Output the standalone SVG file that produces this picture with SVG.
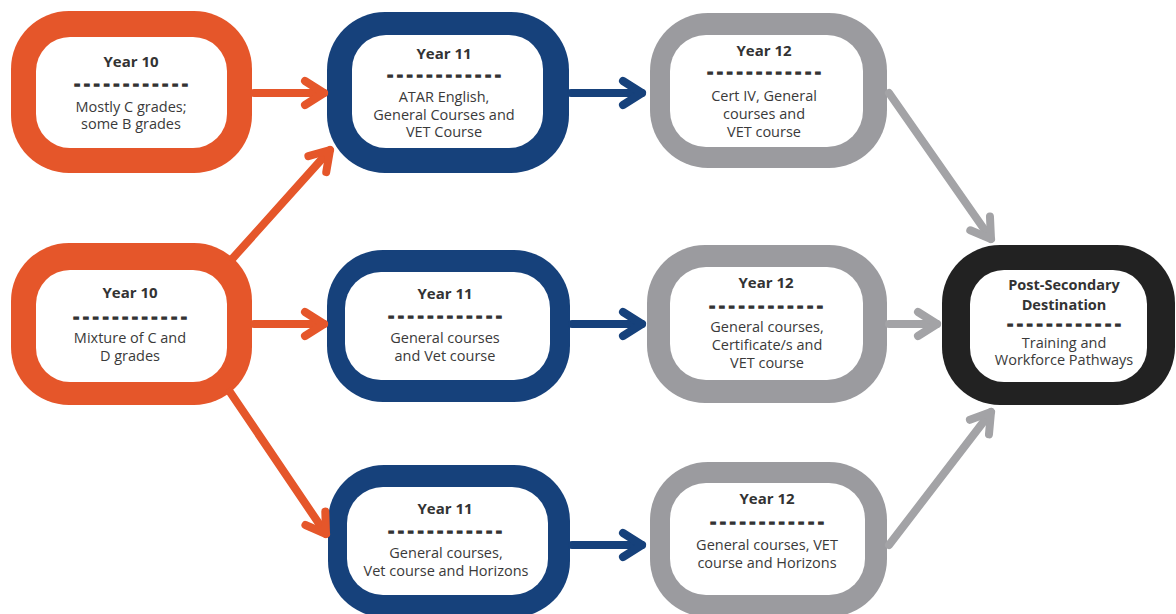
<svg xmlns="http://www.w3.org/2000/svg" width="1176" height="614" viewBox="0 0 1176 614">
<style>
.t{font-family:"Open Sans","Liberation Sans",sans-serif;font-weight:700;font-size:15px;fill:#333;text-anchor:middle}
.tp{font-size:14.5px}
.d{font-family:"Open Sans","Liberation Sans",sans-serif;font-weight:800;font-size:12px;fill:#333;stroke:#333;stroke-width:1.3;text-anchor:middle}
.b{font-family:"Open Sans","Liberation Sans",sans-serif;font-size:14.5px;fill:#3a3a3a;text-anchor:middle}
.in{fill:#fff}
.or{fill:#E5562A}.bl{fill:#16417B}.gr{fill:#9B9B9F}.bk{fill:#222}
.c{fill:none;stroke-width:8;stroke-linecap:round}
.co{stroke:#E5562A}.cb{stroke:#16417B}.cg{stroke:#A3A3A6}
</style>
<defs>
<marker id="mo" markerUnits="userSpaceOnUse" viewBox="-30 -20 40 40" refX="0" refY="0" markerWidth="40" markerHeight="40" orient="auto" overflow="visible"><path d="M-19,-12 L0,0 L-19,12" fill="none" stroke="#E5562A" stroke-width="8" stroke-linecap="round" stroke-linejoin="round"/></marker>
<marker id="mb" markerUnits="userSpaceOnUse" viewBox="-30 -20 40 40" refX="0" refY="0" markerWidth="40" markerHeight="40" orient="auto" overflow="visible"><path d="M-19,-12 L0,0 L-19,12" fill="none" stroke="#16417B" stroke-width="8" stroke-linecap="round" stroke-linejoin="round"/></marker>
<marker id="mg" markerUnits="userSpaceOnUse" viewBox="-30 -20 40 40" refX="0" refY="0" markerWidth="40" markerHeight="40" orient="auto" overflow="visible"><path d="M-19,-12 L0,0 L-19,12" fill="none" stroke="#A3A3A6" stroke-width="8" stroke-linecap="round" stroke-linejoin="round"/></marker>
</defs>
<rect width="1176" height="614" fill="#fff"/>

<g id="y10a">
<rect class="or" x="11" y="11" width="241" height="162" rx="58"/>
<rect class="in" x="36" y="37" width="191" height="111" rx="34"/>
<text class="t" x="131" y="67">Year 10</text>
<text class="d" transform="translate(131,88) scale(1.25,1)" textLength="90" lengthAdjust="spacing">------------</text>
<text class="b" x="131" y="112">Mostly C grades;</text>
<text class="b" x="131" y="129">some B grades</text>
</g>

<g id="y10b">
<rect class="or" x="11" y="243" width="241" height="162" rx="58"/>
<rect class="in" x="36" y="270" width="191" height="112" rx="34"/>
<text class="t" x="130" y="298">Year 10</text>
<text class="d" transform="translate(130,321) scale(1.25,1)" textLength="90" lengthAdjust="spacing">------------</text>
<text class="b" x="130" y="343">Mixture of C and</text>
<text class="b" x="130" y="361">D grades</text>
</g>

<g id="y11a">
<rect class="bl" x="327" y="12" width="242" height="161" rx="58"/>
<rect class="in" x="352" y="35" width="191" height="113" rx="34"/>
<text class="t" x="444" y="59">Year 11</text>
<text class="d" transform="translate(444,79) scale(1.25,1)" textLength="90" lengthAdjust="spacing">------------</text>
<text class="b" x="444" y="102">ATAR English,</text>
<text class="b" x="444" y="120">General Courses and</text>
<text class="b" x="444" y="137">VET Course</text>
</g>

<g id="y11b">
<rect class="bl" x="327" y="250" width="243" height="152" rx="56"/>
<rect class="in" x="345" y="272" width="205" height="108" rx="36"/>
<text class="t" x="445" y="299">Year 11</text>
<text class="d" transform="translate(445,320) scale(1.25,1)" textLength="90" lengthAdjust="spacing">------------</text>
<text class="b" x="445" y="343">General courses</text>
<text class="b" x="445" y="361">and Vet course</text>
</g>

<g id="y11c">
<rect class="bl" x="328" y="465" width="242" height="152" rx="56"/>
<rect class="in" x="347" y="487" width="201" height="108" rx="36"/>
<text class="t" x="445" y="514">Year 11</text>
<text class="d" transform="translate(445,535) scale(1.25,1)" textLength="90" lengthAdjust="spacing">------------</text>
<text class="b" x="446" y="558">General courses,</text>
<text class="b" x="446" y="576">Vet course and Horizons</text>
</g>

<g id="y12a">
<rect class="gr" x="650" y="13" width="237" height="155" rx="58"/>
<rect class="in" x="670" y="35" width="193" height="112" rx="36"/>
<text class="t" x="764" y="56">Year 12</text>
<text class="d" transform="translate(764,76) scale(1.25,1)" textLength="90" lengthAdjust="spacing">------------</text>
<text class="b" x="764" y="101">Cert IV, General</text>
<text class="b" x="764" y="119">courses and</text>
<text class="b" x="764" y="137">VET course</text>
</g>

<g id="y12b">
<rect class="gr" x="647" y="245" width="240" height="158" rx="58"/>
<rect class="in" x="670" y="267" width="193" height="113" rx="36"/>
<text class="t" x="766" y="288">Year 12</text>
<text class="d" transform="translate(766,310) scale(1.25,1)" textLength="90" lengthAdjust="spacing">------------</text>
<text class="b" x="767" y="332">General courses,</text>
<text class="b" x="767" y="350">Certificate/s and</text>
<text class="b" x="767" y="368">VET course</text>
</g>

<g id="y12c">
<rect class="gr" x="650" y="462" width="237" height="155" rx="58"/>
<rect class="in" x="670" y="483" width="195" height="112" rx="36"/>
<text class="t" x="767" y="504">Year 12</text>
<text class="d" transform="translate(767,526) scale(1.25,1)" textLength="90" lengthAdjust="spacing">------------</text>
<text class="b" x="767" y="550">General courses, VET</text>
<text class="b" x="767" y="568">course and Horizons</text>
</g>

<g id="post">
<rect class="bk" x="942" y="245" width="233" height="160" rx="58"/>
<rect class="in" x="970" y="270" width="177" height="112" rx="34"/>
<text class="t tp" x="1064" y="290">Post-Secondary</text>
<text class="t tp" x="1064" y="310">Destination</text>
<text class="d" transform="translate(1064,328) scale(1.25,1)" textLength="90" lengthAdjust="spacing">------------</text>
<text class="b" x="1064" y="348">Training and</text>
<text class="b" x="1064" y="365">Workforce Pathways</text>
</g>

<g id="connectors">
<line class="c co" x1="254" y1="93" x2="324" y2="93" marker-end="url(#mo)"/>
<line class="c co" x1="233" y1="258" x2="330" y2="150" marker-end="url(#mo)"/>
<line class="c co" x1="254" y1="324" x2="324" y2="324" marker-end="url(#mo)"/>
<line class="c co" x1="230" y1="392" x2="326" y2="534" marker-end="url(#mo)"/>
<line class="c cb" x1="571" y1="93" x2="642" y2="93" marker-end="url(#mb)"/>
<line class="c cb" x1="572" y1="324" x2="642" y2="324" marker-end="url(#mb)"/>
<line class="c cb" x1="572" y1="545" x2="642" y2="545" marker-end="url(#mb)"/>
<line class="c cg" x1="889" y1="93" x2="991" y2="239" marker-end="url(#mg)"/>
<line class="c cg" x1="889" y1="324" x2="937" y2="324" marker-end="url(#mg)"/>
<line class="c cg" x1="889" y1="545" x2="991" y2="412" marker-end="url(#mg)"/>
</g>
</svg>
